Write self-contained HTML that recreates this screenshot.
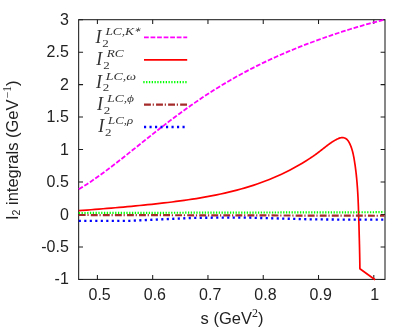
<!DOCTYPE html>
<html><head><meta charset="utf-8"><title>plot</title>
<style>html,body{margin:0;padding:0;background:#fff;overflow:hidden}svg{display:block;will-change:transform}</style></head>
<body>
<svg width="415" height="331" viewBox="0 0 415 331">
<rect width="415" height="331" fill="#fff"/>
<g fill="none" stroke="#1c1c1c" stroke-width="1.05">
<rect x="78.65" y="19.70" width="306.35" height="259.70"/>
<path d="M97.40,279.40 v-4.4 M97.40,19.70 v4.4 M152.68,279.40 v-4.4 M152.68,19.70 v4.4 M207.96,279.40 v-4.4 M207.96,19.70 v4.4 M263.24,279.40 v-4.4 M263.24,19.70 v4.4 M318.52,279.40 v-4.4 M318.52,19.70 v4.4 M373.80,279.40 v-4.4 M373.80,19.70 v4.4 M78.65,19.70 h4.4 M385.00,19.70 h-4.4 M78.65,52.16 h4.4 M385.00,52.16 h-4.4 M78.65,84.62 h4.4 M385.00,84.62 h-4.4 M78.65,117.09 h4.4 M385.00,117.09 h-4.4 M78.65,149.55 h4.4 M385.00,149.55 h-4.4 M78.65,182.01 h4.4 M385.00,182.01 h-4.4 M78.65,214.47 h4.4 M385.00,214.47 h-4.4 M78.65,246.94 h4.4 M385.00,246.94 h-4.4 M78.65,279.40 h4.4 M385.00,279.40 h-4.4 "/>
</g>
<g fill="none" stroke-linejoin="round">
<path d="M78.75,189.20 L82.62,186.88 L86.50,184.44 L90.37,181.90 L94.25,179.27 L98.12,176.55 L101.99,173.76 L105.87,170.91 L109.74,167.99 L113.62,165.04 L117.49,162.04 L121.36,159.01 L125.24,155.96 L129.11,152.88 L132.99,149.80 L136.86,146.71 L140.73,143.62 L144.61,140.53 L148.48,137.46 L152.36,134.40 L156.23,131.35 L160.11,128.33 L163.98,125.34 L167.85,122.37 L171.73,119.44 L175.60,116.54 L179.48,113.67 L183.35,110.85 L187.22,108.07 L191.10,105.33 L194.97,102.63 L198.85,99.98 L202.72,97.37 L206.59,94.81 L210.47,92.30 L214.34,89.84 L218.22,87.43 L222.09,85.06 L225.96,82.74 L229.84,80.47 L233.71,78.25 L237.59,76.07 L241.46,73.95 L245.33,71.86 L249.21,69.82 L253.08,67.83 L256.96,65.88 L260.83,63.97 L264.70,62.10 L268.58,60.28 L272.45,58.49 L276.33,56.74 L280.20,55.02 L284.07,53.35 L287.95,51.70 L291.82,50.09 L295.70,48.51 L299.57,46.96 L303.44,45.44 L307.32,43.95 L311.19,42.49 L315.07,41.06 L318.94,39.65 L322.82,38.26 L326.69,36.91 L330.56,35.57 L334.44,34.26 L338.31,32.98 L342.19,31.72 L346.06,30.48 L349.93,29.26 L353.81,28.08 L357.68,26.91 L361.56,25.78 L365.43,24.67 L369.30,23.58 L373.18,22.53 L377.05,21.51 L380.93,20.53 L384.80,19.57" stroke="#ff00ff" stroke-width="1.8" stroke-dasharray="4.75 1.8"/>
<path d="M78.75,210.67 L82.81,210.37 L86.86,210.06 L90.92,209.75 L94.97,209.43 L99.03,209.10 L103.08,208.77 L107.14,208.43 L111.19,208.09 L115.25,207.74 L119.30,207.39 L123.36,207.03 L127.41,206.66 L131.47,206.29 L135.52,205.91 L139.58,205.52 L143.63,205.12 L147.69,204.71 L151.74,204.29 L155.80,203.85 L159.85,203.41 L163.91,202.95 L167.96,202.47 L172.02,201.97 L176.07,201.46 L180.13,200.92 L184.18,200.37 L188.24,199.78 L192.29,199.18 L196.35,198.54 L200.40,197.87 L204.46,197.18 L208.51,196.44 L212.57,195.67 L216.62,194.86 L220.68,194.01 L224.73,193.11 L228.79,192.17 L232.84,191.17 L236.90,190.13 L240.95,189.02 L245.01,187.86 L249.06,186.64 L253.12,185.35 L257.17,183.99 L261.23,182.55 L265.28,181.05 L269.34,179.46 L273.39,177.79 L277.45,176.03 L281.50,174.18 L285.56,172.24 L289.61,170.20 L293.67,168.05 L297.72,165.80 L301.78,163.43 L305.83,160.95 L309.89,158.34 L310.51,157.95 L311.13,157.55 L311.74,157.15 L312.35,156.75 L312.96,156.34 L313.56,155.92 L314.16,155.50 L314.76,155.08 L315.35,154.65 L315.94,154.22 L316.53,153.79 L317.12,153.35 L317.70,152.91 L318.29,152.47 L318.87,152.03 L319.45,151.58 L320.03,151.13 L320.60,150.68 L321.18,150.23 L321.76,149.78 L322.33,149.32 L322.91,148.87 L323.48,148.41 L324.06,147.96 L324.63,147.51 L325.21,147.05 L325.79,146.60 L326.37,146.16 L326.95,145.71 L327.53,145.27 L328.12,144.83 L328.70,144.39 L329.30,143.96 L329.89,143.54 L330.49,143.12 L331.09,142.70 L331.70,142.29 L332.31,141.89 L332.92,141.50 L333.55,141.11 L334.17,140.73 L334.80,140.36 L335.44,140.00 L336.09,139.65 L336.74,139.31 L337.40,138.98 L338.07,138.67 L338.74,138.38 L339.43,138.12 L340.13,137.90 L340.84,137.72 L341.57,137.60 L342.30,137.55 L343.04,137.59 L343.78,137.72 L344.49,137.94 L345.17,138.23 L345.81,138.58 L346.39,139.00 L346.93,139.46 L347.43,139.98 L347.89,140.53 L348.32,141.12 L348.72,141.73 L349.09,142.37 L349.44,143.03 L349.77,143.70 L350.08,144.38 L350.38,145.06 L350.66,145.74 L350.93,146.43 L351.19,147.12 L351.43,147.81 L351.67,148.51 L351.89,149.21 L352.10,149.91 L352.31,150.61 L352.50,151.32 L352.68,152.02 L352.86,152.73 L353.03,153.44 L353.19,154.16 L353.34,154.87 L353.49,155.59 L353.63,156.31 L353.77,157.02 L353.90,157.74 L354.03,158.47 L354.15,159.19 L354.27,159.91 L354.39,160.63 L354.51,161.35 L354.62,162.08 L354.73,162.80 L354.84,163.52 L354.95,164.25 L355.06,164.97 L355.16,165.70 L355.26,166.42 L355.36,167.15 L355.46,167.88 L355.55,168.60 L355.65,169.33 L355.74,170.06 L355.83,170.78 L355.91,171.51 L356.00,172.24 L356.08,172.96 L356.16,173.69 L356.24,174.42 L356.32,175.15 L356.40,175.88 L356.47,176.61 L356.55,177.34 L356.62,178.06 L356.69,178.79 L356.75,179.52 L356.82,180.25 L356.89,180.98 L356.95,181.71 L357.01,182.44 L357.07,183.17 L357.13,183.90 L357.19,184.63 L357.24,185.36 L357.30,186.09 L357.35,186.82 L357.40,187.55 L357.46,188.28 L357.51,189.01 L357.55,189.74 L357.60,190.47 L357.65,191.21 L357.69,191.94 L357.74,192.67 L357.78,193.40 L357.82,194.13 L357.86,194.86 L357.90,195.59 L357.94,196.32 L357.98,197.05 L358.01,197.79 L358.05,198.52 L358.08,199.25 L358.12,199.98 L358.15,200.71 L358.18,201.44 L358.21,202.18 L358.24,202.91 L358.27,203.64 L358.30,204.37 L358.33,205.10 L358.36,205.83 L358.39,206.57 L358.41,207.30 L358.44,208.03 L358.46,208.76 L358.49,209.49 L358.51,210.23 L358.54,210.96 L358.56,211.69 L358.58,212.42 L358.61,213.16 L358.63,213.89 L358.65,214.62 L358.67,215.35 L358.69,216.08 L358.71,216.82 L358.74,217.55 L358.76,218.28 L358.78,219.01 L358.80,219.75 L358.82,220.48 L358.84,221.21 L358.86,221.94 L358.88,222.68 L358.90,223.41 L358.92,224.14 L358.94,224.87 L358.96,225.60 L358.98,226.34 L359.00,227.07 L359.02,227.80 L359.04,228.53 L359.06,229.26 L359.08,230.00 L359.10,230.73 L359.12,231.46 L359.14,232.19 L359.16,232.92 L359.18,233.66 L359.19,234.39 L359.21,235.12 L359.23,235.85 L359.25,236.58 L359.27,237.32 L359.29,238.05 L359.31,238.78 L359.33,239.51 L359.35,240.24 L359.37,240.98 L359.39,241.71 L359.41,242.44 L359.42,243.17 L359.44,243.90 L359.46,244.64 L359.48,245.37 L359.50,246.10 L359.51,246.83 L359.53,247.56 L359.55,248.30 L359.56,249.03 L359.58,249.76 L359.60,250.49 L359.61,251.22 L359.63,251.96 L359.64,252.69 L359.66,253.42 L359.68,254.15 L359.69,254.88 L359.70,255.62 L359.72,256.35 L359.73,257.08 L359.74,257.81 L359.76,258.55 L359.77,259.28 L359.78,260.01 L359.79,260.74 L359.81,261.47 L359.82,262.21 L359.83,262.94 L359.84,263.67 L359.85,264.40 L359.86,265.14 L359.87,265.87 L359.87,266.60 L359.88,267.33 L359.89,268.07 L359.90,268.80 L375.10,279.75" stroke="#ff0000" stroke-width="1.7"/>
<path d="M78.75,213.00 L384.50,212.20" stroke="#00ff00" stroke-width="2.2" stroke-dasharray="1.3 1.5"/>
<path d="M78.75,215.00 L384.50,215.75" stroke="#a52a2a" stroke-width="2.2" stroke-dasharray="6.9 1.8 1.2 2.15"/>
<path d="M78.75,220.80 L130.00,220.80 L160.00,219.40 L190.00,218.00 L220.00,217.60 L250.00,217.70 L280.00,218.50 L310.00,219.30 L340.00,219.60 L384.00,219.60" stroke="#0000ff" stroke-width="2.35" stroke-dasharray="2.15 3.35"/>
<path d="M144,37.4 H187.2" stroke="#ff00ff" stroke-width="1.8" stroke-dasharray="4.75 1.8"/>
<path d="M144,59.8 H187.2" stroke="#ff0000" stroke-width="1.7"/>
<path d="M143.3,82.2 H187.2" stroke="#00ff00" stroke-width="2.2" stroke-dasharray="1.3 1.5"/>
<path d="M144,104.6 H187" stroke="#a52a2a" stroke-width="2.2" stroke-dasharray="6.9 1.8 1.2 2.15"/>
<path d="M144,127.0 H185" stroke="#0000ff" stroke-width="2.35" stroke-dasharray="2.15 3.35"/>
</g>
<g font-family="Liberation Sans, sans-serif" font-size="16.8px" fill="#222">
<text transform="translate(68.8,24.75) scale(0.953,1)" text-anchor="end">3</text>
<text transform="translate(68.8,57.21) scale(0.953,1)" text-anchor="end">2.5</text>
<text transform="translate(68.8,89.67) scale(0.953,1)" text-anchor="end">2</text>
<text transform="translate(68.8,122.14) scale(0.953,1)" text-anchor="end">1.5</text>
<text transform="translate(68.8,154.60) scale(0.953,1)" text-anchor="end">1</text>
<text transform="translate(68.8,187.06) scale(0.953,1)" text-anchor="end">0.5</text>
<text transform="translate(68.8,219.52) scale(0.953,1)" text-anchor="end">0</text>
<text transform="translate(68.8,251.99) scale(0.953,1)" text-anchor="end">-0.5</text>
<text transform="translate(68.8,284.45) scale(0.953,1)" text-anchor="end">-1</text>
<text transform="translate(99.60,300.1) scale(0.953,1)" text-anchor="middle">0.5</text>
<text transform="translate(154.88,300.1) scale(0.953,1)" text-anchor="middle">0.6</text>
<text transform="translate(210.16,300.1) scale(0.953,1)" text-anchor="middle">0.7</text>
<text transform="translate(265.44,300.1) scale(0.953,1)" text-anchor="middle">0.8</text>
<text transform="translate(320.72,300.1) scale(0.953,1)" text-anchor="middle">0.9</text>
<text transform="translate(374.80,300.1) scale(0.953,1)" text-anchor="middle">1</text>
<text x="200.6" y="324.0" font-size="16.5px">s (GeV<tspan font-family="Liberation Serif, serif" font-size="12px" dy="-6.7">2</tspan><tspan dy="6.7">)</tspan></text>
<text transform="translate(17.6,220.0) rotate(-90)" font-size="16.5px">I<tspan font-size="10.5px" dy="2.5">2</tspan><tspan dy="-2.5"> integrals (GeV</tspan><tspan font-family="Liberation Serif, serif" font-size="11.5px" dx="1.2" dy="-6.5">−1</tspan><tspan dy="6.5">)</tspan></text>
</g>
<g font-family="Liberation Serif, serif" fill="#333" font-style="italic">
<text x="95.4" y="42.9" font-size="18px">I</text>
<text transform="translate(102.3,46.6) scale(1.3,1)" font-size="10px" font-style="normal">2</text>
<text x="105.4" y="34.9" font-size="11.3px" textLength="35.8" lengthAdjust="spacingAndGlyphs">LC,K<tspan font-size="7px" dy="-3.4">∗</tspan></text>
<text x="96.3" y="65.2" font-size="18px">I</text>
<text transform="translate(103.2,68.9) scale(1.3,1)" font-size="10px" font-style="normal">2</text>
<text x="106.7" y="57.2" font-size="11.3px" textLength="17.0" lengthAdjust="spacingAndGlyphs">RC</text>
<text x="95.9" y="87.6" font-size="18px">I</text>
<text transform="translate(102.8,91.3) scale(1.3,1)" font-size="10px" font-style="normal">2</text>
<text x="105.7" y="79.6" font-size="11.3px" textLength="30.3" lengthAdjust="spacingAndGlyphs">LC,ω</text>
<text x="96.9" y="110.0" font-size="18px">I</text>
<text transform="translate(103.8,113.7) scale(1.3,1)" font-size="10px" font-style="normal">2</text>
<text x="107.3" y="102.0" font-size="11.3px" textLength="26.7" lengthAdjust="spacingAndGlyphs">LC,ϕ</text>
<text x="98.2" y="132.4" font-size="18px">I</text>
<text transform="translate(105.1,136.1) scale(1.3,1)" font-size="10px" font-style="normal">2</text>
<text x="108.0" y="124.4" font-size="11.3px" textLength="25.2" lengthAdjust="spacingAndGlyphs">LC,ρ</text>
</g>
</svg>
</body></html>
